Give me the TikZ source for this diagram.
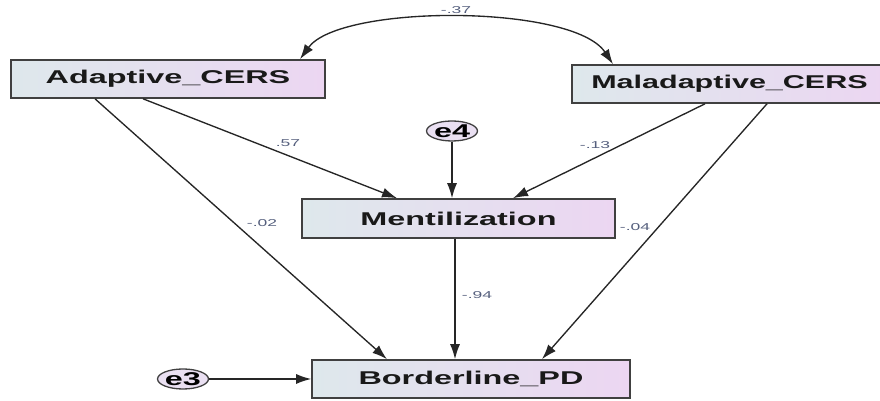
\documentclass[tikz,border=0pt]{standalone}
\usepackage{fontspec}
\usepackage{xcolor}
\usetikzlibrary{arrows.meta, shapes.geometric}
\newfontfamily\boxfont[FakeStretch=1.75]{Liberation Sans}
\newfontfamily\boxfontn[FakeStretch=1.65]{Liberation Sans}
\newfontfamily\lblfont[FakeStretch=1.75]{Liberation Sans}
\definecolor{boxleft}{RGB}{222,232,236}
\definecolor{boxright}{RGB}{236,214,242}
\definecolor{errfill}{RGB}{234,224,242}
\definecolor{coefcol}{RGB}{85,95,125}

\begin{document}
\begin{tikzpicture}[x=1pt, y=1pt,
        varbox/.style={draw=black!75, line width=1.6pt, rectangle,
            left color=boxleft, right color=boxright,
            minimum height=38pt, inner sep=0pt,
            font=\boxfont\bfseries\fontsize{18.5}{20}\selectfont, text=black!90},
        errnode/.style={draw=black!75, line width=1.3pt, ellipse, fill=errfill,
            inner sep=0pt, minimum height=20pt,
            font=\boxfont\bfseries\fontsize{18.5}{20}\selectfont},
        path/.style={black!85, line width=1.35pt, -{Latex[length=15pt, width=10pt]}},
        coef/.style={font=\lblfont\fontsize{10}{12}\selectfont, text=coefcol}]
        \useasboundingbox (0,0) rectangle (880,401);
        \clip (0,0) rectangle (880,401);

        % vertices
        \node[varbox, minimum width=314pt] (adap) at (168, 322) {Adaptive\_CERS};
        \node[varbox, minimum width=315pt, font=\boxfontn\bfseries\fontsize{18.5}{20}\selectfont]
            (mal) at (729.5, 317) {Maladaptive\_CERS};
        \node[varbox, minimum width=313pt, minimum height=39pt] (ment) at (458.5, 182.5) {Mentilization};
        \node[varbox, minimum width=318pt] (bpd) at (471, 22) {Borderline\_PD};
        \node[errnode, minimum width=48pt] (e4) at (452, 270) {e4};
        \node[errnode, minimum width=43pt] (e3) at (183, 22) {e3};

        % draw diagram
        \draw[path] ([xshift=-25pt]adap.south) -- ([xshift=-61.5pt]ment.north);
        \draw[path] ([xshift=-73pt]adap.south) -- ([xshift=-84pt]bpd.north);
        \draw[path] ([xshift=-24.5pt]mal.south) -- ([xshift=54.5pt]ment.north);
        \draw[path] ([xshift=37.5pt]mal.south) -- ([xshift=71pt]bpd.north);
        \draw[path] (e4) -- (e4 |- ment.north);
        \draw[path] ([xshift=-3.5pt]ment.south) -- ([xshift=-16pt]bpd.north);
        \draw[path] (e3) -- (bpd.west);
        \draw[path, {Latex[length=15pt, width=10pt]}-{Latex[length=15pt, width=10pt]}]
            ([xshift=132pt]adap.north) .. controls (340, 397) and (573, 397) .. ([xshift=-116.5pt]mal.north);

        % labels
        \node[coef] (c37) at (456, 391) {-.37};
        \node[coef] (c57) at (288, 258) {.57};
        \node[coef] (c02) at (262, 178) {-.02};
        \node[coef] (c13) at (595, 256) {-.13};
        \node[coef] (c04) at (635, 174) {-.04};
        \node[coef] (c94) at (477, 106) {-.94};
    \end{tikzpicture}
\end{document}
